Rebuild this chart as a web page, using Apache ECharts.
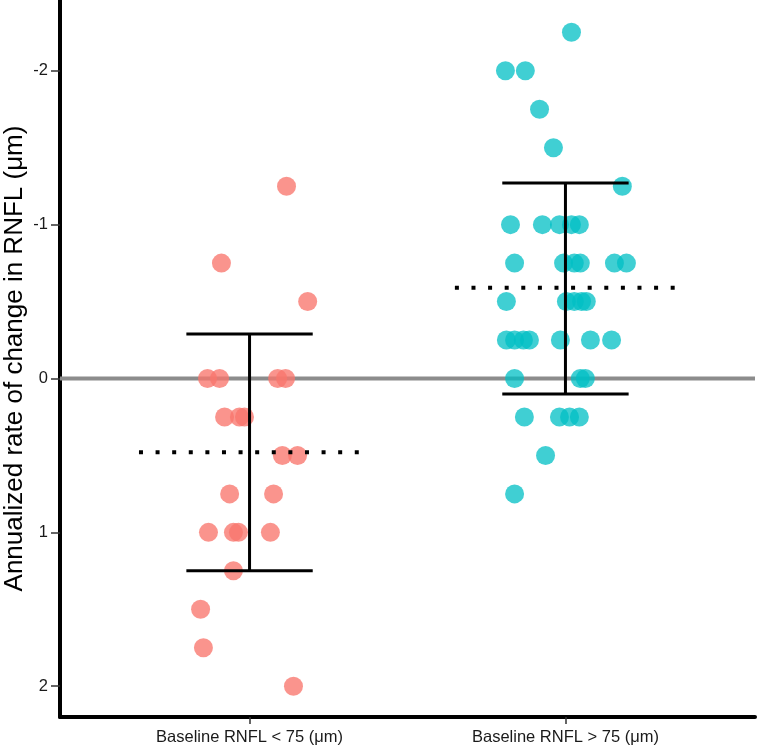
<!DOCTYPE html>
<html>
<head>
<meta charset="utf-8">
<script src="https://cdn.jsdelivr.net/npm/echarts@6/dist/echarts.min.js"></script>
<style>html,body{margin:0;padding:0;background:#fff}#c{width:759px;height:751px}</style>
</head>
<body>
<div id="c"></div>
<script>
// Categories and tick labels
var categories = ['Baseline RNFL < 75 (\u03bcm)', 'Baseline RNFL > 75 (\u03bcm)'];
var yTicks = [-2, -1, 0, 1, 2];

// Group 1 (jittered x position, annualized rate)
var lowX = [1.117, 0.911, 1.184, 0.867, 0.905, 1.089, 1.114, 0.921, 0.968, 0.984, 1.104, 1.152, 0.937, 1.076, 0.870, 0.949, 0.965, 1.066, 0.949, 0.845, 0.854, 1.139];
var lowY = [-1.25, -0.75, -0.5, 0, 0, 0, 0, 0.25, 0.25, 0.25, 0.5, 0.5, 0.75, 0.75, 1, 1, 1, 1, 1.25, 1.5, 1.75, 2];

// Group 2
var highX = [2.019, 1.810, 1.873, 1.918, 1.962, 2.180,
  1.826, 1.927, 1.981, 2.019, 2.044,
  1.839, 1.994, 2.028, 2.047, 2.155, 2.193,
  1.813, 2.003, 2.028, 2.051, 2.066,
  1.813, 1.839, 1.867, 1.886, 1.984, 2.079, 2.146,
  1.839, 2.047, 2.063,
  1.870, 1.981, 2.013, 2.044,
  1.937, 1.839];
var highY = [-2.25, -2, -2, -1.75, -1.5, -1.25,
  -1, -1, -1, -1, -1,
  -0.75, -0.75, -0.75, -0.75, -0.75, -0.75,
  -0.5, -0.5, -0.5, -0.5, -0.5,
  -0.25, -0.25, -0.25, -0.25, -0.25, -0.25, -0.25,
  0, 0, 0,
  0.25, 0.25, 0.25, 0.25,
  0.5, 0.75];

// Summary statistics per group (mean, lower, upper)
var groupPos = [1, 2];
var means = [0.48, -0.59];
var lowerBar = [-0.29, -1.27];
var upperBar = [1.25, 0.10];

var capHalf = 0.2, meanHalf = 0.35;

function zip(xs, ys) { return xs.map(function (x, i) { return [x, ys[i]]; }); }

var series = [];
series.push({
  type: 'line', data: [[0.4, 0], [2.6, 0]], symbol: 'none', silent: true, z: 1,
  lineStyle: { color: '#8c8c8c', width: 4 }
});
series.push({
  type: 'scatter', data: zip(lowX, lowY), symbolSize: 19, z: 2,
  itemStyle: { color: '#F8766D', opacity: 0.78 }
});
series.push({
  type: 'scatter', data: zip(highX, highY), symbolSize: 19, z: 2,
  itemStyle: { color: '#00BFC4', opacity: 0.75 }
});
groupPos.forEach(function (g, i) {
  var ls = { color: '#000', width: 3, cap: 'butt' };
  series.push({ type: 'line', symbol: 'none', z: 5, lineStyle: ls, data: [[g, lowerBar[i]], [g, upperBar[i]]] });
  series.push({ type: 'line', symbol: 'none', z: 5, lineStyle: ls, data: [[g - capHalf, lowerBar[i]], [g + capHalf, lowerBar[i]]] });
  series.push({ type: 'line', symbol: 'none', z: 5, lineStyle: ls, data: [[g - capHalf, upperBar[i]], [g + capHalf, upperBar[i]]] });
  series.push({ type: 'line', symbol: 'none', z: 5,
    lineStyle: { color: '#000', width: 4, type: [4, 12.6], cap: 'butt' },
    data: [[g - meanHalf, means[i]], [g + meanHalf, means[i]]] });
});

var chart = echarts.init(document.getElementById('c'));
chart.setOption({
  animation: false,
  backgroundColor: '#fff',
  grid: { left: 60, right: 4, top: 0, bottom: 34, containLabel: false, outerBoundsMode: 'none' },
  xAxis: {
    type: 'value', min: 0.4, max: 2.6,
    splitLine: { show: false },
    axisLine: { show: true, onZero: false, lineStyle: { color: '#000', width: 4 } },
    axisTick: { show: true, customValues: groupPos, length: 7, lineStyle: { color: '#333', width: 1.5 } },
    axisLabel: {
      customValues: groupPos, margin: 12, color: '#1a1a1a', fontSize: 16.5,
      fontFamily: 'Liberation Sans, Arial, sans-serif',
      formatter: function (v) { return categories[Math.round(v) - 1]; }
    }
  },
  yAxis: {
    type: 'value', inverse: true, min: -2.46, max: 2.2,
    name: 'Annualized rate of change in RNFL (\u03bcm)',
    nameLocation: 'middle', nameGap: 32, nameMoveOverlap: false,
    nameTextStyle: { fontSize: 26, color: '#000', fontFamily: 'Liberation Sans, Arial, sans-serif' },
    splitLine: { show: false },
    axisLine: { show: true, onZero: false, lineStyle: { color: '#000', width: 4 } },
    axisTick: { show: true, customValues: yTicks, length: 9, lineStyle: { color: '#333', width: 1.5 } },
    axisLabel: {
      customValues: yTicks, margin: 12, color: '#1a1a1a', fontSize: 16.5,
      fontFamily: 'Liberation Sans, Arial, sans-serif'
    }
  },
  series: series
});
</script>
</body>
</html>
